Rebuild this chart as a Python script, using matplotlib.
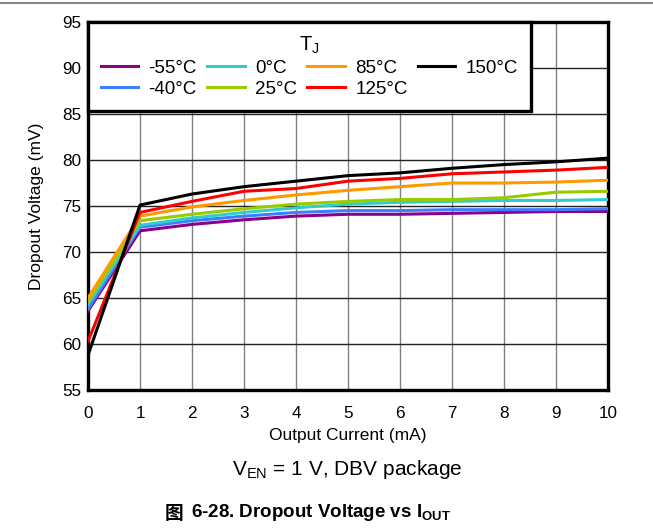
import numpy as np
import matplotlib
matplotlib.use('Agg')
import matplotlib.pyplot as plt
from matplotlib.lines import Line2D

plt.rcParams.update({
    'font.family': ['Liberation Sans', 'DejaVu Sans'],
    'mathtext.fontset': 'custom',
    'mathtext.rm': 'Liberation Sans',
    'mathtext.it': 'Liberation Sans',
    'mathtext.bf': 'Liberation Sans:bold',
})

# Output current (mA)
current = [0, 1, 2, 3, 4, 5, 6, 7, 8, 9, 10]

# Dropout voltage (mV) per junction temperature
v_m55 = [63.6, 72.3, 73.0, 73.5, 73.9, 74.1, 74.1, 74.2, 74.3, 74.4, 74.4]
v_m40 = [63.8, 72.7, 73.4, 73.9, 74.3, 74.5, 74.5, 74.6, 74.6, 74.6, 74.7]
v_0 = [64.3, 72.9, 73.7, 74.3, 74.8, 75.2, 75.4, 75.5, 75.6, 75.6, 75.7]
v_25 = [64.6, 73.4, 74.1, 74.7, 75.2, 75.5, 75.7, 75.7, 75.9, 76.5, 76.6]
v_85 = [65.0, 73.9, 74.9, 75.6, 76.2, 76.7, 77.1, 77.5, 77.5, 77.6, 77.8]
v_125 = [60.3, 74.3, 75.5, 76.6, 76.9, 77.7, 78.0, 78.5, 78.7, 78.9, 79.2]
v_150 = [58.8, 75.1, 76.3, 77.1, 77.7, 78.3, 78.6, 79.1, 79.5, 79.8, 80.2]

series = [
    ('-55°C', v_m55, '#8B008B'),
    ('-40°C', v_m40, '#3D7EFF'),
    ('0°C', v_0, '#33CCCC'),
    ('25°C', v_25, '#99CC00'),
    ('85°C', v_85, '#FF9900'),
    ('125°C', v_125, '#FF0000'),
    ('150°C', v_150, '#000000'),
]

fig = plt.figure(figsize=(6.53, 5.29), dpi=100)
ax = fig.add_axes([0.1348, 0.2628, 0.7962, 0.6956])

for label, vals, color in series:
    ax.plot(current, vals, color=color, lw=2.2, label=label, zorder=3)

ax.set_xlim(0, 10)
ax.set_ylim(55, 95)
ax.set_xticks(np.arange(0, 11, 1))
ax.set_yticks(np.arange(55, 96, 5))
ax.tick_params(axis='both', length=0, labelsize=12.3)
ax.tick_params(axis='x', pad=11.5)
ax.tick_params(axis='y', pad=5)
ax.xaxis.grid(True, color='#808080', lw=1.0)
ax.yaxis.grid(True, color='#222222', lw=1.0)
ax.set_axisbelow(True)
for sp in ax.spines.values():
    sp.set_linewidth(2.4)
    sp.set_color('black')

ax.set_xlabel('Output Current (mA)', fontsize=12.5, labelpad=5)
ax.set_ylabel('Dropout Voltage (mV)', fontsize=12.5, labelpad=13)

leg = ax.legend(loc='upper left', bbox_to_anchor=(0, 1), borderaxespad=0,
                ncol=4, title='T$_\\mathrm{J}$', fontsize=13.5, title_fontsize=14.5,
                handlelength=2.0, handletextpad=0.55, columnspacing=0.55,
                labelspacing=0.2, borderpad=0.68, fancybox=False,
                framealpha=1, edgecolor='black')
leg.get_frame().set_linewidth(2.4)
leg.set_zorder(5)
for h in leg.get_lines():
    h.set_linewidth(2.2)

# top rule of the page
fig.add_artist(Line2D([0, 1], [0.994, 0.994], color='#888888', lw=1.5,
                      transform=fig.transFigure))

# captions
fig.text(0.531, 0.113, 'V$_\\mathrm{EN}$ = 1 V, DBV package', ha='center',
         va='center', fontsize=15)
t1 = fig.text(0.2527, 0.018, '图', family=['Noto Sans CJK SC', 'DejaVu Sans'],
              fontweight='bold', fontsize=13.5, ha='left', va='baseline')
ax.annotate('6-28. Dropout Voltage vs I$_\\mathbf{OUT}$', xy=(1, 0), xycoords=t1,
            xytext=(5, 0), textcoords='offset points', fontsize=13.5,
            fontweight='bold', ha='left', va='bottom', annotation_clip=False)

fig.savefig('out.png', dpi=100)
